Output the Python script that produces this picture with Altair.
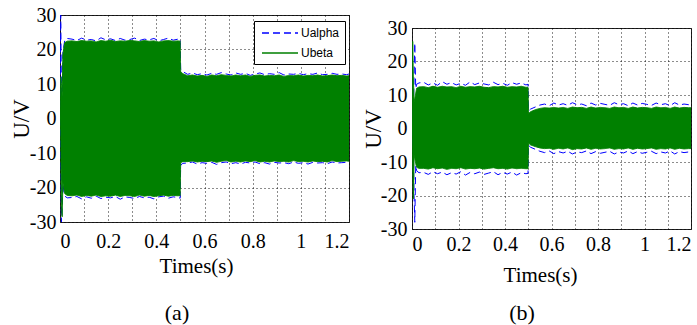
import altair as alt
import pandas as pd

# ---- time grid (s) ----
T_EARLY = [0, 0.003, 0.006, 0.009, 0.012, 0.016, 0.02, 0.03]
T_MID = [0.05, 0.07, 0.09, 0.11, 0.13, 0.15, 0.17, 0.19, 0.21, 0.23, 0.25, 0.27,
         0.29, 0.31, 0.33, 0.35, 0.37, 0.39, 0.41, 0.43, 0.45, 0.47, 0.49]
T_STEP = [0.499, 0.501, 0.51]
T_LATE = [0.53, 0.55, 0.57, 0.59, 0.61, 0.63, 0.65, 0.67, 0.69, 0.71, 0.73, 0.75,
          0.77, 0.79, 0.81, 0.83, 0.85, 0.87, 0.89, 0.91, 0.93, 0.95, 0.97, 0.99,
          1.01, 1.03, 1.05, 1.07, 1.09, 1.11, 1.13, 1.15, 1.17, 1.19]
T_END = [1.2]
TIME = T_EARLY + T_MID + T_STEP + T_LATE + T_END

# ---- panel (a): envelopes of Ualpha / Ubeta (V) ----
UA_HI_A = ([0, 30, 8, 2, 19, 21, 22.8, 23.2]
           + [23.0, 22.6, 23.3, 22.7, 22.9, 22.5, 23.4, 22.8, 23.1, 22.6, 23.2, 22.7,
              22.9, 23.3, 22.6, 23.0, 22.8, 23.2, 22.5, 22.9, 23.3, 22.7, 23.0]
           + [23.0, 14.3, 13.6]
           + [12.8, 13.2, 12.7, 13.0, 12.6, 13.1, 12.8, 13.3, 12.9, 12.6, 13.2, 12.8,
              13.1, 12.5, 12.9, 13.2, 12.7, 13.0, 12.8, 13.3, 12.6, 12.9, 12.8, 13.1,
              12.7, 13.0, 12.8, 13.2, 12.7, 12.8, 13.1, 12.8, 12.9, 12.7]
           + [12.9])
UA_LO_A = ([0, -5, -30, -26, -19, -21, -22.5, -23.0]
           + [-22.9, -22.6, -23.3, -22.7, -23.1, -22.5, -23.2, -22.8, -23.0, -22.6, -23.4, -22.7,
              -22.9, -23.2, -22.6, -23.0, -22.8, -23.3, -22.7, -22.5, -23.1, -22.7, -22.9]
           + [-23.1, -13.5, -13.0]
           + [-12.9, -12.6, -13.2, -12.8, -13.0, -12.7, -13.3, -12.8, -12.6, -13.1, -12.8, -13.2,
              -12.7, -12.9, -12.6, -13.1, -12.8, -13.2, -12.7, -12.9, -12.8, -13.1, -12.6, -13.0,
              -12.8, -13.2, -12.7, -12.9, -12.8, -13.1, -12.6, -12.9, -12.8, -12.7]
           + [-12.9])
UB_HI_A = ([0, 12, 10, 6, 18.5, 20.5, 22.0, 22.4]
           + [22.5, 22.3, 22.6, 22.4, 22.5, 22.2, 22.6, 22.4, 22.7, 22.3, 22.5, 22.4,
              22.6, 22.5, 22.3, 22.6, 22.4, 22.5, 22.2, 22.5, 22.6, 22.4, 22.5]
           + [22.4, 13.6, 13.0]
           + [12.4, 12.6, 12.3, 12.5, 12.2, 12.6, 12.4, 12.7, 12.5, 12.3, 12.6, 12.4,
              12.6, 12.2, 12.5, 12.6, 12.3, 12.5, 12.4, 12.6, 12.2, 12.5, 12.4, 12.6,
              12.3, 12.5, 12.4, 12.6, 12.3, 12.4, 12.6, 12.4, 12.5, 12.3]
           + [12.4])
UB_LO_A = ([0, -4, -26, -28.5, -18.5, -20.5, -21.8, -22.3]
           + [-22.4, -22.2, -22.6, -22.3, -22.5, -22.2, -22.6, -22.4, -22.5, -22.2, -22.6, -22.3,
              -22.4, -22.6, -22.2, -22.5, -22.3, -22.6, -22.4, -22.2, -22.5, -22.3, -22.4]
           + [-22.3, -12.8, -12.5]
           + [-12.5, -12.3, -12.6, -12.4, -12.5, -12.3, -12.7, -12.4, -12.2, -12.6, -12.4, -12.6,
              -12.3, -12.5, -12.2, -12.6, -12.4, -12.6, -12.3, -12.5, -12.4, -12.6, -12.2, -12.5,
              -12.4, -12.6, -12.3, -12.5, -12.4, -12.6, -12.2, -12.5, -12.4, -12.3]
           + [-12.4])

# ---- panel (b) ----
UA_HI_B = ([0, 3, 6, 15, 25.5, 12, 13.2, 13.6]
           + [13.8, 13.0, 13.6, 12.9, 14.0, 13.2, 13.7, 13.0, 13.5, 12.9, 13.9, 13.1,
              13.6, 13.3, 13.0, 13.8, 13.1, 13.5, 12.9, 13.7, 13.2, 13.6, 13.0]
           + [13.2, 5.2, 5.8]
           + [6.4, 7.0, 7.3, 6.8, 7.6, 7.0, 7.4, 6.9, 7.7, 7.1, 7.3, 6.8,
              7.6, 7.0, 7.5, 7.2, 6.9, 7.7, 7.1, 7.4, 6.8, 7.6, 7.0, 7.5,
              7.2, 6.9, 7.6, 7.1, 7.4, 6.8, 7.7, 7.0, 7.3, 7.1]
           + [7.2])
UA_LO_B = ([0, -3, -6, -20, -28, -11, -12.6, -13.2]
           + [-13.1, -13.7, -12.9, -13.5, -13.0, -13.8, -13.2, -13.6, -12.9, -13.9, -13.1, -13.5,
              -13.0, -13.7, -13.3, -12.9, -13.8, -13.1, -13.6, -13.0, -13.9, -13.2, -13.5]
           + [-13.4, -5.0, -5.6]
           + [-6.2, -6.8, -7.2, -6.7, -7.5, -6.9, -7.3, -6.8, -7.6, -7.0, -7.2, -6.7,
              -7.5, -6.9, -7.4, -7.1, -6.8, -7.6, -7.0, -7.3, -6.7, -7.5, -6.9, -7.4,
              -7.1, -6.8, -7.5, -7.0, -7.3, -6.7, -7.6, -6.9, -7.2, -7.0]
           + [-7.1])
UB_HI_B = ([0, 26, 15, 8, 9, 10.5, 12.0, 12.4]
           + [12.5, 12.2, 12.6, 12.3, 12.6, 12.4, 12.5, 12.2, 12.6, 12.3, 12.5, 12.4,
              12.6, 12.3, 12.2, 12.5, 12.4, 12.6, 12.3, 12.5, 12.4, 12.6, 12.3]
           + [12.3, 4.5, 5.0]
           + [5.6, 6.0, 6.2, 6.1, 6.3, 6.1, 6.3, 6.0, 6.4, 6.2, 6.3, 6.0,
              6.4, 6.1, 6.3, 6.2, 6.0, 6.4, 6.2, 6.3, 6.0, 6.4, 6.1, 6.3,
              6.2, 6.0, 6.4, 6.2, 6.3, 6.0, 6.4, 6.1, 6.3, 6.2]
           + [6.2])
UB_LO_B = ([0, -12, -21, -8, -9, -10.5, -11.6, -11.9]
           + [-11.9, -12.1, -11.7, -12.0, -11.8, -12.2, -11.9, -12.0, -11.7, -12.1, -11.9, -12.0,
              -11.8, -12.1, -11.9, -11.7, -12.0, -11.9, -12.1, -11.8, -12.0, -11.9, -12.0]
           + [-12.0, -4.3, -4.9]
           + [-5.4, -5.8, -6.0, -5.9, -6.2, -5.9, -6.1, -5.8, -6.3, -6.0, -6.1, -5.8,
              -6.2, -5.9, -6.1, -6.0, -5.8, -6.2, -6.0, -6.1, -5.8, -6.2, -5.9, -6.1,
              -6.0, -5.8, -6.2, -6.0, -6.1, -5.8, -6.2, -5.9, -6.1, -6.0]
           + [-6.0])

SERIES = ["Ualpha", "Ubeta"]
COLORS = ["#0000ff", "#008000"]
DASHES = [[7, 4], [1, 0]]
X_TICKS = [0, 0.1, 0.2, 0.3, 0.4, 0.5, 0.6, 0.7, 0.8, 0.9, 1.0, 1.1, 1.2]
Y_TICKS = [-30, -20, -10, 0, 10, 20, 30]

SERIF = "Liberation Serif"
SANS = "Liberation Sans"


def panel(ua_hi, ua_lo, ub_hi, ub_lo, w, h, lx, ly, caption, cap_dx, cap_off,
          xlab_pad, xtitle_pad, xtitle_x, ylab_pad, ytitle_pad):
    band = pd.DataFrame({
        "t": TIME * 2,
        "series": ["Ualpha"] * len(TIME) + ["Ubeta"] * len(TIME),
        "hi": ua_hi + ub_hi,
        "lo": ua_lo + ub_lo,
    })
    edges = band.melt(id_vars=["t", "series"], value_vars=["hi", "lo"],
                      var_name="edge", value_name="v")

    xscale = alt.Scale(domain=[0, 1.2], nice=False, zero=False)
    yscale = alt.Scale(domain=[-30, 30], nice=False, zero=False)

    xaxis = alt.Axis(values=X_TICKS, grid=True, gridDash=[1, 3], gridColor="#000",
                     gridOpacity=0.9, ticks=False, domain=False, labelFlush=True,
                     labelExpr="round(datum.value*10) % 2 == 0 ? format(datum.value, '~g') : ''",
                     labelFont=SERIF, labelFontSize=20, labelColor="#000",
                     labelPadding=xlab_pad, title="Times(s)", titleFont=SERIF,
                     titleFontSize=21, titleFontWeight="normal", titleColor="#000",
                     titlePadding=xtitle_pad, titleX=xtitle_x)
    yaxis = alt.Axis(values=Y_TICKS, grid=True, gridDash=[1, 3], gridColor="#000",
                     gridOpacity=0.9, ticks=False, domain=False,
                     labelExpr="'' + datum.value",
                     labelFont=SERIF, labelFontSize=20, labelColor="#000",
                     labelPadding=ylab_pad, title="U/V", titleFont=SERIF,
                     titleFontSize=23, titleFontWeight="normal", titleColor="#000",
                     titlePadding=ytitle_pad)

    leg = alt.Legend(orient="none", legendX=lx, legendY=ly, title=None,
                     strokeColor="#000", fillColor="#fff", padding=5,
                     symbolType="M-3,0H3", symbolSize=144, symbolStrokeWidth=1.3,
                     symbolOffset=14,
                     labelFont=SANS, labelFontSize=12, labelColor="#000",
                     labelOffset=14, rowPadding=7, cornerRadius=0)

    # envelope edges (Ualpha dashed blue peeks out from under the Ubeta band)
    lines = alt.Chart(edges).mark_line(strokeWidth=1, clip=True).encode(
        x=alt.X("t:Q", scale=xscale, axis=None),
        y=alt.Y("v:Q", scale=yscale, axis=yaxis),
        color=alt.Color("series:N", scale=alt.Scale(domain=SERIES, range=COLORS), legend=leg),
        strokeDash=alt.StrokeDash("series:N", scale=alt.Scale(domain=SERIES, range=DASHES), legend=leg),
        detail="edge:N",
        order=alt.Order("t:Q"),
    )
    green = alt.Chart(band).transform_filter(alt.datum.series == "Ubeta").mark_area(
        color=COLORS[1], opacity=1
    ).encode(
        x=alt.X("t:Q", scale=xscale, axis=xaxis),
        y=alt.Y("hi:Q", scale=yscale, axis=yaxis),
        y2="lo:Q",
    )
    return alt.layer(lines, green).resolve_axis(x="independent").properties(
        width=w, height=h,
        title=alt.TitleParams(caption, orient="bottom", frame="group", anchor="middle",
                              font=SERIF, fontSize=22, fontWeight="normal", color="#000",
                              dx=cap_dx, offset=cap_off),
    )


pa = panel(UA_HI_A, UA_LO_A, UB_HI_A, UB_LO_A, 289, 207, 194, 6, "(a)", -27.5, 27,
           9, 4, 136, 4, -4)
pb = panel(UA_HI_B, UA_LO_B, UB_HI_B, UB_LO_B, 279, 201, 186, 2, "(b)", -29.5, 18,
           5, 10, 128, 5, -5)

# invisible spacer that pushes panel (b) a little lower than panel (a)
spacer = alt.Chart(pd.DataFrame({"t": [0]})).mark_point(opacity=0).encode(
    x=alt.X("t:Q", axis=None), y=alt.Y("t:Q", axis=None)
).properties(width=1, height=1, view=alt.ViewBackground(stroke="transparent"))

chart = alt.hconcat(pa, alt.vconcat(spacer, pb, spacing=-2), spacing=11).properties(
    padding={"left": 9, "top": 4, "right": 0, "bottom": 3}
).configure_view(stroke="#222", strokeWidth=1)

chart.save("out.html", embed_options={"renderer": "svg", "actions": False})
